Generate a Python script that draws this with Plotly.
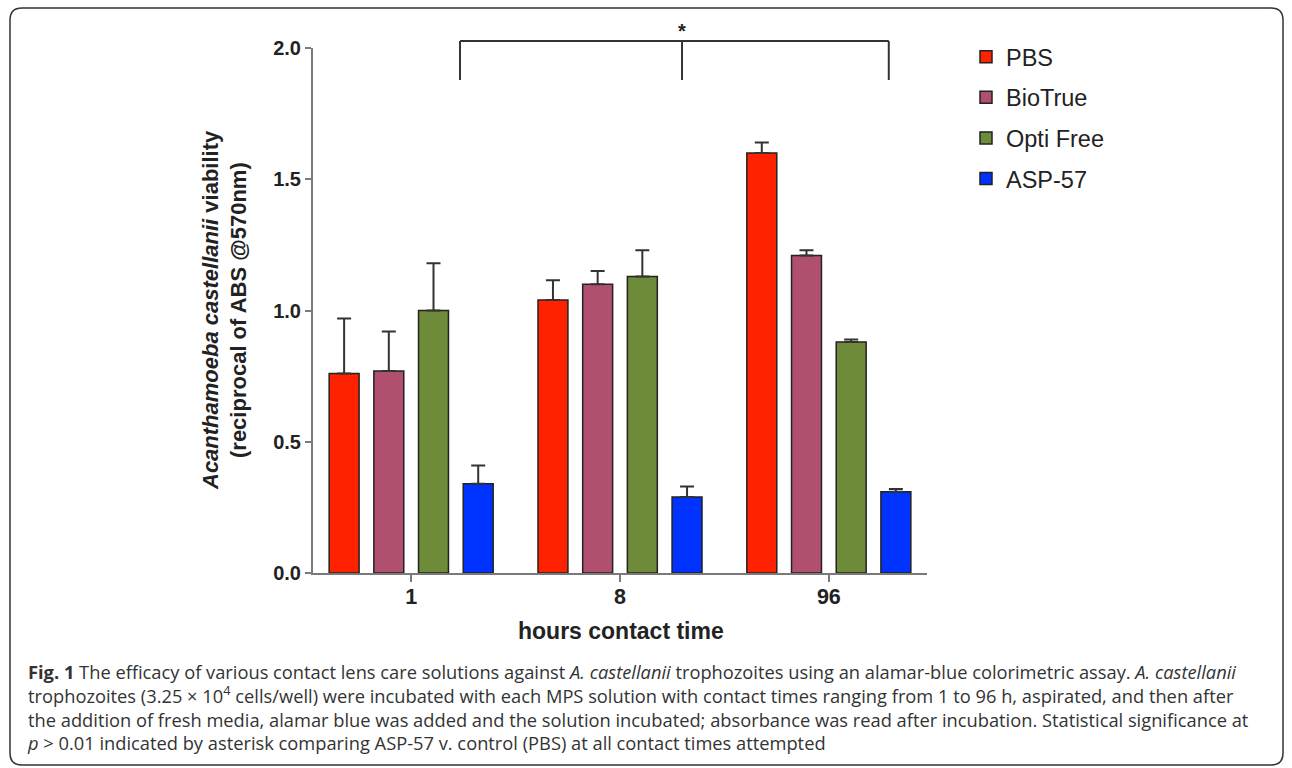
import plotly.graph_objects as go

# ---------------- data ----------------
categories = ["1", "8", "96"]
series_names = ["PBS", "BioTrue", "Opti Free", "ASP-57"]
pbs_vals = [0.76, 1.04, 1.60]
pbs_err = [0.21, 0.075, 0.04]
biotrue_vals = [0.77, 1.10, 1.21]
biotrue_err = [0.15, 0.05, 0.02]
optifree_vals = [1.00, 1.13, 0.88]
optifree_err = [0.18, 0.10, 0.01]
asp_vals = [0.34, 0.29, 0.31]
asp_err = [0.07, 0.04, 0.01]
colors = ["#FF2200", "#B0506E", "#6E8B3A", "#0033FF"]

y_ticks = [0.0, 0.5, 1.0, 1.5, 2.0]
y_ticklabels = ["0.0", "0.5", "1.0", "1.5", "2.0"]

values = [pbs_vals, biotrue_vals, optifree_vals, asp_vals]
errors = [pbs_err, biotrue_err, optifree_err, asp_err]

# ---------------- layout geometry (pixels) ----------------
W_PX, H_PX = 1292, 768
L, R, T, B = 313, 927, 48, 573
PW, PH = R - L, B - T


def px2x(px):
    return (px - L) / PW


def py2y(py):
    return (B - py) / PH


FONT = "Arial, Liberation Sans, Helvetica, sans-serif"
AXIS_GRAY = "#7a7a7a"

fig = go.Figure()
for i, name in enumerate(series_names):
    fig.add_trace(go.Bar(
        x=categories, y=values[i], name=name,
        legendgroup=name,
        marker=dict(color=colors[i], line=dict(color="#222222", width=1.5)),
        error_y=dict(type="data", symmetric=False, array=errors[i],
                     arrayminus=[0] * len(errors[i]),
                     color="#333333", thickness=2, width=7),
    ))

shapes = []
# significance bracket (category units on x, paper on y)
br_left, br_mid, br_right = 0.234, 1.297, 2.287
br_top, br_bot = py2y(41), py2y(80)
for xb in (br_left, br_mid, br_right):
    shapes.append(dict(type="line", xref="x", yref="paper", x0=xb, x1=xb,
                       y0=br_bot, y1=br_top, line=dict(color="#333333", width=2)))
shapes.append(dict(type="line", xref="x", yref="paper", x0=br_left, x1=br_right,
                   y0=br_top, y1=br_top, line=dict(color="#333333", width=2)))

# rounded outer border
bl, br_, bt, bb, rad = 10, 1283, 8, 765, 12
x0, x1 = px2x(bl), px2x(br_)
y0, y1 = py2y(bb), py2y(bt)
rx, ry = rad / PW, rad / PH
path = (f"M {x0+rx},{y1} L {x1-rx},{y1} Q {x1},{y1} {x1},{y1-ry} "
        f"L {x1},{y0+ry} Q {x1},{y0} {x1-rx},{y0} L {x0+rx},{y0} "
        f"Q {x0},{y0} {x0},{y0+ry} L {x0},{y1-ry} Q {x0},{y1} {x0+rx},{y1} Z")
shapes.append(dict(type="path", xref="paper", yref="paper", path=path,
                   line=dict(color="#333333", width=1.5), fillcolor="rgba(0,0,0,0)"))

annotations = []
annotations.append(dict(text="<b>*</b>", xref="x", yref="paper", x=br_mid, y=py2y(31),
                        showarrow=False, font=dict(family=FONT, size=20, color="#222222"),
                        xanchor="center", yanchor="middle"))
# y-axis title (two lines)
annotations.append(dict(text="<b><i>Acanthamoeba castellanii</i> viability</b>",
                        xref="paper", yref="paper", x=px2x(210), y=py2y(310),
                        textangle=-90, showarrow=False,
                        font=dict(family=FONT, size=22, color="#222222"),
                        xanchor="center", yanchor="middle"))
annotations.append(dict(text="<b>(reciprocal of ABS @570nm)</b>",
                        xref="paper", yref="paper", x=px2x(238), y=py2y(310),
                        textangle=-90, showarrow=False,
                        font=dict(family=FONT, size=22, color="#222222"),
                        xanchor="center", yanchor="middle"))
# x-axis title
annotations.append(dict(text="<b>hours contact time</b>", xref="paper", yref="paper",
                        x=px2x(621), y=py2y(631), showarrow=False,
                        font=dict(family=FONT, size=23, color="#222222"),
                        xanchor="center", yanchor="middle"))

caption_lines = [
    "<b>Fig. 1</b> The efficacy of various contact lens care solutions against <i>A. castellanii</i> "
    "trophozoites using an alamar-blue colorimetric assay. <i>A. castellanii</i>",
    "trophozoites (3.25 × 10<sup>4</sup> cells/well) were incubated with each MPS solution with contact "
    "times ranging from 1 to 96 h, aspirated, and then after",
    "the addition of fresh media, alamar blue was added and the solution incubated; absorbance was "
    "read after incubation. Statistical significance at",
    "<i>p</i> > 0.01 indicated by asterisk comparing ASP-57 v. control (PBS) at all contact times attempted",
]
annotations.append(dict(text="<br>".join(caption_lines), xref="paper", yref="paper",
                        x=px2x(25), y=py2y(707), showarrow=False,
                        xanchor="left", yanchor="middle", align="left",
                        font=dict(family="Open Sans, sans-serif", size=18.3, color="#333333")))

fig.update_layout(
    width=W_PX, height=H_PX,
    margin=dict(l=L, r=W_PX - R, t=T, b=H_PX - B, autoexpand=False),
    paper_bgcolor="white", plot_bgcolor="white",
    barmode="group", bargap=0.144, bargroupgap=0.33,
    showlegend=True,
    legend=dict(x=px2x(966), y=py2y(35), xanchor="left", yanchor="top",
                font=dict(family=FONT, size=23.5, color="#222222"),
                traceorder="grouped", tracegroupgap=7, bgcolor="rgba(0,0,0,0)"),
    xaxis=dict(type="category", range=[-0.47, 2.47], showline=True, linecolor=AXIS_GRAY,
               linewidth=2, ticks="outside", ticklen=7, tickwidth=2, tickcolor=AXIS_GRAY,
               tickfont=dict(family=FONT, size=21.5, color="#222222"),
               ticklabelstandoff=-4,
               tickprefix="<b>", ticksuffix="</b>", showgrid=False, zeroline=False,
               fixedrange=True),
    yaxis=dict(range=[0, 2.0], tickvals=y_ticks, ticktext=[f"<b>{t}</b>" for t in y_ticklabels],
               showline=True, linecolor=AXIS_GRAY, linewidth=2, ticks="outside", ticklen=6,
               tickwidth=2, tickcolor=AXIS_GRAY, showgrid=False, zeroline=False,
               tickfont=dict(family=FONT, size=20, color="#222222"), fixedrange=True),
    shapes=shapes, annotations=annotations,
)

fig.write_html("out.html", config={"displayModeBar": False},
               post_script="document.body.style.margin='0';document.body.style.overflow='hidden';")
